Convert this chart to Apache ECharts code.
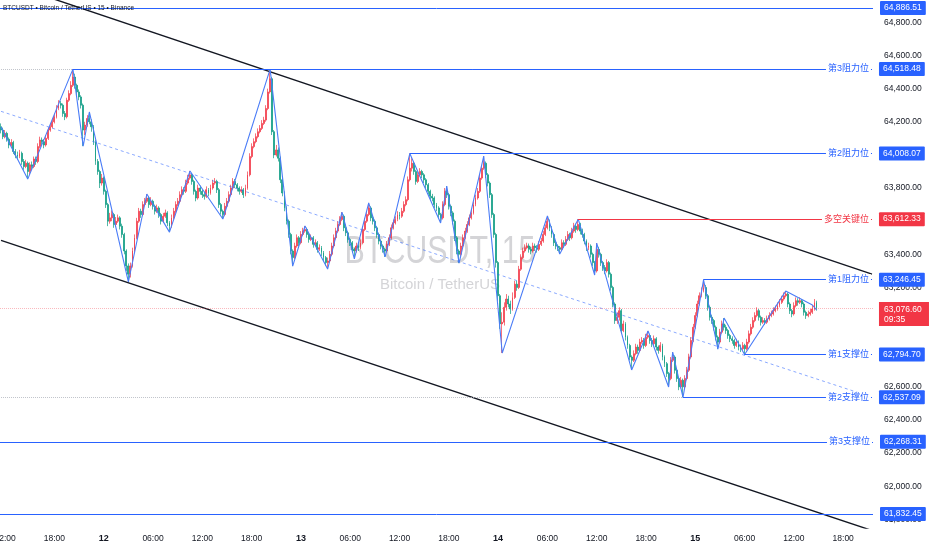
<!DOCTYPE html>
<html><head><meta charset="utf-8">
<script src="https://cdn.jsdelivr.net/npm/echarts@6/dist/echarts.min.js"></script>
<style>html,body{margin:0;padding:0;background:#fff}#c{width:932px;height:550px}</style>
</head><body><div id="c"></div>
<script>
// ---------- DATA ----------
const firstOpen = 64170;
const closes = [
64150,64110,64130,64095,64060,64075,64020,64000,63990,64010,
63960,63930,63950,63900,63940,63930,63975,63960,64050,64090,
64080,64060,64100,64150,64170,64200,64230,64280,64310,64300,
64250,64230,64330,64370,64420,64470,64420,64380,64350,64300,
64150,64180,64220,64200,64170,64080,63960,63900,63830,63860,
63780,63700,63600,63620,63640,63580,63600,63620,63570,63520,
63420,63330,63280,63330,63420,63500,63600,63660,63640,63700,
63720,63740,63700,63720,63690,63660,63680,63640,63600,63630,
63650,63590,63570,63620,63660,63700,63720,63760,63790,63780,
63830,63860,63880,63840,63780,63740,63800,63780,63760,63750,
63790,63770,63800,63830,63840,63790,63700,63660,63640,63690,
63720,63760,63800,63840,63820,63800,63780,63790,63760,63800,
63880,63990,64050,64080,64110,64140,64160,64190,64210,64280,
64380,64460,64140,64000,64030,63980,63850,63770,63680,63600,
63520,63420,63380,63450,63500,63470,63520,63540,63550,63520,
63490,63500,63460,63470,63430,63440,63410,63380,63350,63360,
63400,63450,63500,63540,63580,63610,63630,63560,63530,63490,
63470,63430,63420,63450,63440,63470,63550,63600,63640,63680,
63620,63600,63560,63520,63480,63450,63430,63420,63460,63500,
63560,63590,63610,63640,63630,63660,63700,63730,63850,63920,
63950,63900,63840,63880,63900,63880,63850,63820,63780,63750,
63740,63700,63680,63640,63620,63700,63780,63760,63690,63650,
63600,63500,63420,63400,63450,63500,63540,63580,63620,63650,
63700,63740,63780,63860,63920,63950,63880,63830,63760,63640,
63520,63350,63150,62980,62990,63080,63130,63100,63070,63140,
63220,63200,63310,63380,63420,63440,63450,63430,63420,63450,
63440,63430,63460,63480,63520,63560,63600,63560,63520,63470,
63450,63440,63430,63470,63460,63490,63520,63500,63540,63570,
63550,63580,63540,63520,63480,63440,63450,63400,63350,63300,
63430,63400,63350,63320,63300,63350,63280,63200,63100,63000,
63020,63060,62940,62980,62900,62850,62780,62760,62800,62840,
62820,62870,62880,62850,62900,62910,62880,62860,62890,62840,
62820,62850,62780,62740,62680,62650,62760,62780,62700,62650,
62600,62640,62600,62650,62700,62780,62880,62960,63030,63100,
63150,63180,63200,63150,63080,63020,63000,62960,62900,62870,
62930,62980,62960,62940,62910,62890,62880,62850,62870,62840,
62830,62850,62830,62870,62920,62960,63000,63030,63060,63020,
62990,63000,62990,63010,63030,63040,63060,63070,63090,63110,
63130,63150,63160,63100,63060,63040,63090,63120,63110,63120,
63100,63050,63030,63040,63050,63070,63110,63076.6];
const highs = [
64190,64165,64150,64140,64105,64095,64085,64035,64020,64030,
64020,63975,63970,63960,63955,63960,63990,63990,64070,64110,
64105,64095,64120,64165,64190,64220,64250,64300,64330,64325,
64310,64265,64345,64390,64445,64518.48,64490,64430,64395,64360,
64310,64200,64240,64259,64215,64180,64090,63975,63910,63885,
63870,63790,63710,63650,63665,63650,63625,63640,63630,63585,
63530,63430,63345,63350,63440,63520,63620,63680,63675,63720,
63740,63764,63750,63745,63730,63700,63700,63690,63650,63650,
63670,63660,63600,63640,63680,63720,63740,63780,63810,63805,
63850,63880,63903,63890,63850,63790,63820,63815,63790,63775,
63810,63800,63820,63850,63860,63850,63800,63710,63670,63710,
63740,63780,63820,63860,63855,63830,63810,63810,63800,63820,
63900,64010,64070,64100,64130,64160,64180,64210,64230,64300,
64400,64518,64470,64150,64060,64045,63990,63860,63780,63690,
63610,63530,63430,63470,63520,63510,63540,63560,63571,63560,
63530,63520,63510,63490,63480,63460,63450,63420,63390,63380,
63420,63470,63520,63560,63600,63630,63655,63640,63570,63540,
63500,63480,63440,63470,63470,63490,63570,63620,63660,63710,
63690,63635,63610,63570,63530,63490,63460,63440,63480,63520,
63580,63610,63630,63660,63655,63680,63720,63750,63870,64008,
63980,63960,63910,63900,63920,63910,63890,63860,63830,63790,
63765,63750,63710,63690,63650,63720,63800,63812,63770,63700,
63660,63610,63510,63430,63470,63520,63560,63600,63640,63670,
63720,63760,63800,63880,63940,63993,63960,63890,63840,63770,
63650,63530,63360,63160,63050,63110,63160,63150,63120,63170,
63240,63240,63330,63400,63440,63460,63470,63465,63445,63470,
63465,63455,63480,63500,63540,63580,63631,63610,63570,63530,
63480,63460,63450,63490,63485,63510,63540,63530,63560,63590,
63585,63612.33,63590,63555,63530,63490,63470,63460,63410,63360,
63468,63445,63410,63360,63335,63370,63360,63290,63210,63110,
63050,63080,63070,63000,62990,62910,62860,62790,62820,62860,
62855,62890,62900,62895,62920,62937,62920,62895,62910,62900,
62850,62870,62860,62790,62750,62690,62780,62810,62790,62710,
62660,62660,62650,62670,62720,62800,62900,62980,63050,63120,
63170,63200,63246.45,63215,63160,63090,63035,63010,62970,62910,
62950,63000,63015,62975,62950,62920,62905,62890,62890,62880,
62855,62870,62860,62890,62940,62980,63020,63050,63080,63070,
63030,63020,63015,63030,63050,63060,63080,63090,63110,63130,
63150,63170,63178,63170,63110,63070,63110,63140,63135,63140,
63130,63110,63060,63060,63070,63094,63130,63120];
const lows = [
64130,64095,64100,64080,64040,64050,64005,63980,63970,63980,
63940,63910,63920,63854,63880,63910,63920,63940,63950,64040,
64060,64040,64050,64090,64140,64160,64190,64220,64270,64280,
64230,64210,64220,64320,64360,64410,64400,64360,64330,64280,
64053,64120,64170,64185,64140,64060,63940,63880,63800,63815,
63760,63680,63570,63585,63600,63560,63565,63590,63550,63500,
63400,63300,63233,63260,63320,63410,63490,63590,63620,63630,
63690,63710,63680,63690,63670,63640,63650,63620,63580,63590,
63620,63570,63534,63560,63610,63650,63690,63710,63750,63760,
63770,63820,63850,63820,63760,63720,63730,63760,63740,63730,
63740,63750,63760,63790,63820,63770,63680,63640,63613,63630,
63680,63710,63750,63790,63800,63780,63760,63770,63740,63750,
63790,63870,63980,64040,64070,64100,64130,64150,64180,64200,
64270,64370,64120,63980,63990,63960,63830,63750,63660,63580,
63500,63400,63329,63370,63440,63450,63460,63510,63530,63500,
63470,63480,63440,63450,63410,63420,63390,63360,63330,63311,
63350,63390,63440,63490,63530,63570,63600,63540,63510,63470,
63450,63410,63372,63410,63420,63430,63460,63540,63590,63630,
63600,63580,63540,63500,63460,63430,63410,63384,63410,63450,
63490,63550,63580,63600,63610,63620,63650,63690,63720,63840,
63900,63880,63820,63830,63870,63860,63830,63800,63760,63730,
63720,63680,63660,63620,63589,63610,63690,63740,63670,63630,
63580,63480,63400,63347,63390,63440,63490,63530,63570,63610,
63640,63690,63730,63770,63850,63910,63860,63810,63740,63620,
63500,63320,63120,62950,62804,62970,63060,63080,63040,63060,
63130,63180,63190,63300,63370,63410,63430,63410,63400,63410,
63420,63410,63420,63450,63470,63510,63550,63540,63500,63450,
63430,63420,63402,63420,63440,63450,63480,63480,63490,63530,
63530,63540,63520,63500,63460,63420,63425,63380,63330,63275,
63290,63380,63330,63300,63280,63290,63260,63180,63080,62980,
62980,63000,62920,62930,62880,62830,62760,62702,62750,62790,
62800,62810,62860,62830,62840,62890,62860,62840,62850,62820,
62800,62810,62760,62720,62660,62599,62640,62750,62680,62630,
62580,62590,62537.09,62590,62640,62690,62770,62870,62950,63020,
63090,63140,63170,63130,63060,63000,62980,62940,62880,62828,
62860,62920,62940,62920,62890,62870,62860,62830,62840,62820,
62810,62820,62794.7,62820,62860,62910,62950,62990,63020,63000,
62970,62980,62975,62980,63000,63020,63030,63050,63060,63080,
63100,63120,63140,63080,63040,63020,63030,63080,63090,63100,
63080,63030,63010,63020,63030,63040,63060,63060];

// time axis: 15-minute slots from day 11 11:30, incl. empty future slots
const startDay = 11, startMinute = 11 * 60 + 30, slotMinutes = 15, totalSlots = 425;
const timeTicks = ['12:00','18:00','12','06:00','12:00','18:00','13','06:00','12:00','18:00','14','06:00','12:00','18:00','15','06:00','12:00','18:00'];
const firstTickSlot = 2, tickEvery = 24;

// hand-drawn zigzag (pivot slot, price)
const zigIdx = [0,13,35,40,43,62,71,82,92,108,131,142,148,159,166,172,179,187,199,214,217,223,235,244,266,272,281,289,290,307,315,325,327,332,342,349,352,362,382,395,397];
const zigPrice = [64168,63854,64518,64053,64259,63233,63764,63534,63903,63613,64518,63329,63571,63311,63655,63372,63710,63384,64008,63589,63812,63347,63993,62804,63631,63402,63612,63275,63468,62702,62937,62599,62810,62537,63246,62828,63015,62795,63178,63094,63064];

// channel trend lines (slot, price)
const upperChannel = [[0, 65048], [424, 63280]];
const lowerChannel = [[0, 63484], [424, 61733]];
const midChannel = [[0, 64263], [424, 62538]];

// horizontal levels
const levelPrices = [64886.51, 64518.48, 64008.07, 63612.33, 63246.45, 62794.70, 62537.09, 62268.31, 61832.45];
const levelNames = ['', '第3阻力位', '第2阻力位', '多空关键位', '第1阻力位', '第1支撑位', '第2支撑位', '第3支撑位', ''];
const levelStart = [null, 35, 199, 281, 342, 362, 332, null, null];
const levelIsKey = [false, false, false, true, false, false, false, false, false];

const rangeHigh = 64518.48, rangeHighSlot = 35;
const rangeLow = 62537.09, rangeLowSlot = 332;
const countdown = '09:35';
const legendText = 'BTCUSDT • Bitcoin / TetherUS • 15 • Binance';

// ---------- BUILD ----------
const BLUE = '#2962ff', RED = '#f23645', GREEN = '#089981';
const FONT = '"Liberation Sans", Arial, "Noto Sans CJK SC", sans-serif';
function fmt(v){ return v.toLocaleString('en-US',{minimumFractionDigits:2, maximumFractionDigits:2}); }
const cats = [];
for (let i = 0; i < totalSlots; i++) {
  const m = startMinute + i * slotMinutes;
  const d = startDay + Math.floor(m / 1440), hh = Math.floor((m % 1440) / 60), mm = m % 60;
  cats.push(d + ' ' + String(hh).padStart(2,'0') + ':' + String(mm).padStart(2,'0'));
}
const lastSlot = totalSlots - 1;
const candles = closes.map((c, i) => [i === 0 ? firstOpen : closes[i-1], c, lows[i], highs[i]]);
const lastPrice = closes[closes.length - 1];

const mlData = [];
levelPrices.forEach((p, k) => {
  const col = levelIsKey[k] ? RED : BLUE;
  const lineStyle = {color: col, width: 1, type: 'solid', opacity: 1};
  const priceLabel = {show: true, position: 'end', distance: 7, formatter: fmt(p), color: '#fff',
    backgroundColor: col, padding: [2, 4, 2, 4], fontSize: 8.5, lineHeight: 10, fontFamily: FONT, borderRadius: 1};
  const nameLabel = {show: true, position: 'insideEnd', distance: 1, formatter: levelNames[k], color: col,
    backgroundColor: '#fff', padding: [1, 2], fontSize: 9, fontFamily: FONT};
  if (levelStart[k] === null) {
    mlData.push({yAxis: p, lineStyle, label: priceLabel});
    if (levelNames[k]) mlData.push({yAxis: p, lineStyle, label: nameLabel});
  } else {
    mlData.push([{coord: [levelStart[k], p], lineStyle, label: priceLabel}, {coord: [lastSlot, p]}]);
    mlData.push([{coord: [levelStart[k], p], lineStyle, label: nameLabel}, {coord: [lastSlot, p]}]);
  }
});
const faint = {color: '#b2b5be', width: 1, type: 'dotted', opacity: 0.8};
mlData.unshift([{coord: [0, rangeHigh], lineStyle: faint, label: {show: false}}, {coord: [rangeHighSlot, rangeHigh]}]);
mlData.unshift([{coord: [0, rangeLow], lineStyle: faint, label: {show: false}}, {coord: [rangeLowSlot, rangeLow]}]);
mlData.unshift({yAxis: lastPrice, lineStyle: {color: RED, width: 1, type: 'dotted', opacity: 0.35}, label: {show: false}});

const chart = echarts.init(document.getElementById('c'), null, {renderer: 'canvas'});
chart.setOption({
  animation: false,
  backgroundColor: '#ffffff',
  grid: {left: 0, right: 59, top: 0, bottom: 22, containLabel: false, outerBoundsMode: 'none'},
  xAxis: {
    type: 'category', data: cats, boundaryGap: true,
    axisLine: {show: false}, axisTick: {show: false}, splitLine: {show: false},
    axisLabel: {
      interval: (idx) => idx >= firstTickSlot && (idx - firstTickSlot) % tickEvery === 0,
      formatter: (v, idx) => {
        const t = timeTicks[(idx - firstTickSlot) / tickEvery];
        if (t === undefined) return '';
        return t.indexOf(':') < 0 ? '{d|' + t + '}' : t;
      },
      color: '#131722', fontSize: 8.5, fontFamily: FONT, margin: 6,
      rich: {d: {fontWeight: 'bold', fontSize: 9, color: '#131722', fontFamily: FONT}}
    }
  },
  yAxis: {
    type: 'value', position: 'right', min: 61748, max: 64935, splitNumber: 16, scale: true,
    axisLine: {show: false}, axisTick: {show: false}, splitLine: {show: false},
    axisLabel: {showMinLabel: false, showMaxLabel: false, formatter: (v) => fmt(v),
      color: '#131722', fontSize: 8.5, fontFamily: FONT, margin: 11}
  },
  graphic: [
    {type: 'text', z: -10, x: 440, y: 253, scaleX: 0.8, originX: 0, originY: 0,
      style: {text: 'BTCUSDT, 15', font: '38px "Liberation Sans", Arial, sans-serif', fill: '#d4d4d7', textAlign: 'center', textVerticalAlign: 'middle'}},
    {type: 'text', z: -10, x: 440, y: 285,
      style: {text: 'Bitcoin / TetherUS', font: '15px "Liberation Sans", Arial, sans-serif', fill: '#d4d4d7', textAlign: 'center', textVerticalAlign: 'middle'}},
    {type: 'text', z: 10, x: 3, y: 8,
      style: {text: legendText, font: '6.5px "Liberation Sans", Arial, sans-serif', fill: '#131722', textAlign: 'left', textVerticalAlign: 'middle'}}
  ],
  series: [
    {
      type: 'candlestick', data: candles, barWidth: 1.4, clip: false, z: 2,
      itemStyle: {color: RED, color0: GREEN, borderColor: RED, borderColor0: GREEN, borderWidth: 0.7},
      markLine: {silent: true, animation: false, symbol: ['none', 'none'], data: mlData},
      markPoint: {silent: true, animation: false, data: [{
        coord: [lastSlot, lastPrice], symbol: 'rect', symbolSize: [50, 24], symbolOffset: [32, 6],
        itemStyle: {color: RED},
        label: {show: true, position: [5, 3], align: 'left', verticalAlign: 'top',
          formatter: fmt(lastPrice) + '\n' + countdown, color: '#fff', fontSize: 8.5, lineHeight: 10, fontFamily: FONT}
      }]}
    },
    {type: 'line', data: midChannel, symbol: 'none', z: 3, silent: true,
      lineStyle: {color: 'rgba(41,98,255,0.55)', width: 1, type: [3, 3]}},
    {type: 'line', data: upperChannel, symbol: 'none', z: 3, silent: true,
      lineStyle: {color: '#131722', width: 1.4}},
    {type: 'line', data: lowerChannel, symbol: 'none', z: 3, silent: true,
      lineStyle: {color: '#131722', width: 1.4}},
    {type: 'line', data: zigIdx.map((x, k) => [x, zigPrice[k]]), symbol: 'none', z: 4, silent: true,
      lineStyle: {color: '#4a7cf7', width: 1.1}}
  ]
});
</script></body></html>
